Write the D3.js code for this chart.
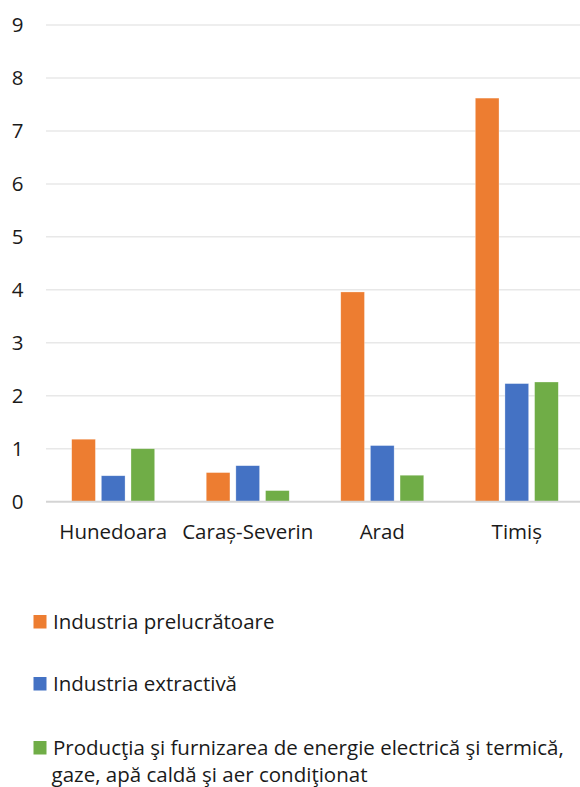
<!DOCTYPE html>
<html>
<head>
<meta charset="utf-8">
<script src="https://cdn.jsdelivr.net/npm/d3@7/dist/d3.min.js"></script>
<style>
  html, body { margin: 0; padding: 0; background: #fff; }
  svg { display: block; font-family: "Open Sans", "Noto Sans", sans-serif; }
</style>
</head>
<body>
<svg id="chart" width="580" height="787"></svg>
<script>
const categories = ["Hunedoara", "Caraș-Severin", "Arad", "Timiș"];
const seriesNames = [
  "Industria prelucrătoare",
  "Industria extractivă",
  "Producţia şi furnizarea de energie electrică şi termică, gaze, apă caldă şi aer condiţionat"
];
const legendLines = [
  ["Industria prelucrătoare"],
  ["Industria extractivă"],
  ["Producţia şi furnizarea de energie electrică şi termică,", "gaze, apă caldă şi aer condiţionat"]
];
const prelucratoare = [1.18, 0.55, 3.96, 7.62];
const extractiva = [0.49, 0.68, 1.06, 2.23];
const energie = [1.00, 0.21, 0.50, 2.26];
const yTicks = [0, 1, 2, 3, 4, 5, 6, 7, 8, 9];
const colors = ["#ED7D31", "#4472C4", "#70AD47"];

(function () {
const seriesValues = [prelucratoare, extractiva, energie];

const svg = d3.select("#chart");
const pLeft = 46, pRight = 584, pTop = 25, pBottom = 501.7;

const y = d3.scaleLinear().domain([0, 9]).range([pBottom, pTop]);
const x0 = d3.scaleBand().domain(categories).range([pLeft, pRight])
  .paddingInner(0.383).paddingOuter(0.191);
const x1 = d3.scaleBand().domain(d3.range(seriesNames.length))
  .range([0, x0.bandwidth()]).paddingInner(0.2).paddingOuter(0);

// gridlines
svg.append("g").selectAll("line").data(yTicks.filter(d => d > 0)).join("line")
  .attr("x1", pLeft).attr("x2", 580)
  .attr("y1", d => y(d)).attr("y2", d => y(d))
  .attr("stroke", "#e8e8e8").attr("stroke-width", 1.5);

// y axis labels
const yAxis = d3.axisLeft(y).tickValues(yTicks).tickSize(0).tickPadding(0);
const yg = svg.append("g").attr("transform", `translate(23.5,0)`).call(yAxis);
yg.select(".domain").remove();
yg.selectAll("text").attr("font-size", "20.5px").attr("fill", "#1a1a1a")
  .attr("font-family", "'Open Sans', sans-serif");

// bars
const groups = svg.append("g").selectAll("g").data(categories).join("g")
  .attr("transform", d => `translate(${x0(d)},0)`);
groups.selectAll("rect")
  .data((c, ci) => seriesValues.map((vals, si) => ({ si, v: vals[ci] })))
  .join("rect")
  .attr("x", d => x1(d.si))
  .attr("width", x1.bandwidth())
  .attr("y", d => y(d.v))
  .attr("height", d => y(0) - y(d.v))
  .attr("fill", d => colors[d.si])
  .attr("stroke", "#ffffff").attr("stroke-width", 0.6).attr("stroke-opacity", 0.5);

// x axis line
svg.append("line").attr("x1", pLeft).attr("x2", 580)
  .attr("y1", y(0)).attr("y2", y(0))
  .attr("stroke", "#d4d4d4").attr("stroke-width", 2);

// x axis labels
const xAxis = d3.axisBottom(x0).tickSize(0).tickPadding(0);
const xg = svg.append("g").attr("transform", `translate(0,${pBottom + 23})`).call(xAxis);
xg.select(".domain").remove();
xg.selectAll("text").attr("font-size", "20.5px").attr("fill", "#1a1a1a")
  .attr("font-family", "'Open Sans', sans-serif");

// legend
const legendY = [629, 691, 755];
const lg = svg.append("g").selectAll("g").data(legendLines).join("g")
  .attr("transform", (d, i) => `translate(0,${legendY[i]})`);
lg.append("rect").attr("x", 33.5).attr("y", -14).attr("width", 13).attr("height", 13.5)
  .attr("fill", (d, i) => colors[i]);
lg.append("text").attr("x", 53).attr("y", -0.5)
  .attr("font-size", "20.5px").attr("fill", "#1a1a1a")
  .selectAll("tspan").data(d => d).join("tspan")
  .attr("x", (d, i) => i === 0 ? 53 : 51.5)
  .attr("dy", (d, i) => i === 0 ? 0 : 27)
  .text(d => d);
})();
</script>
</body>
</html>
